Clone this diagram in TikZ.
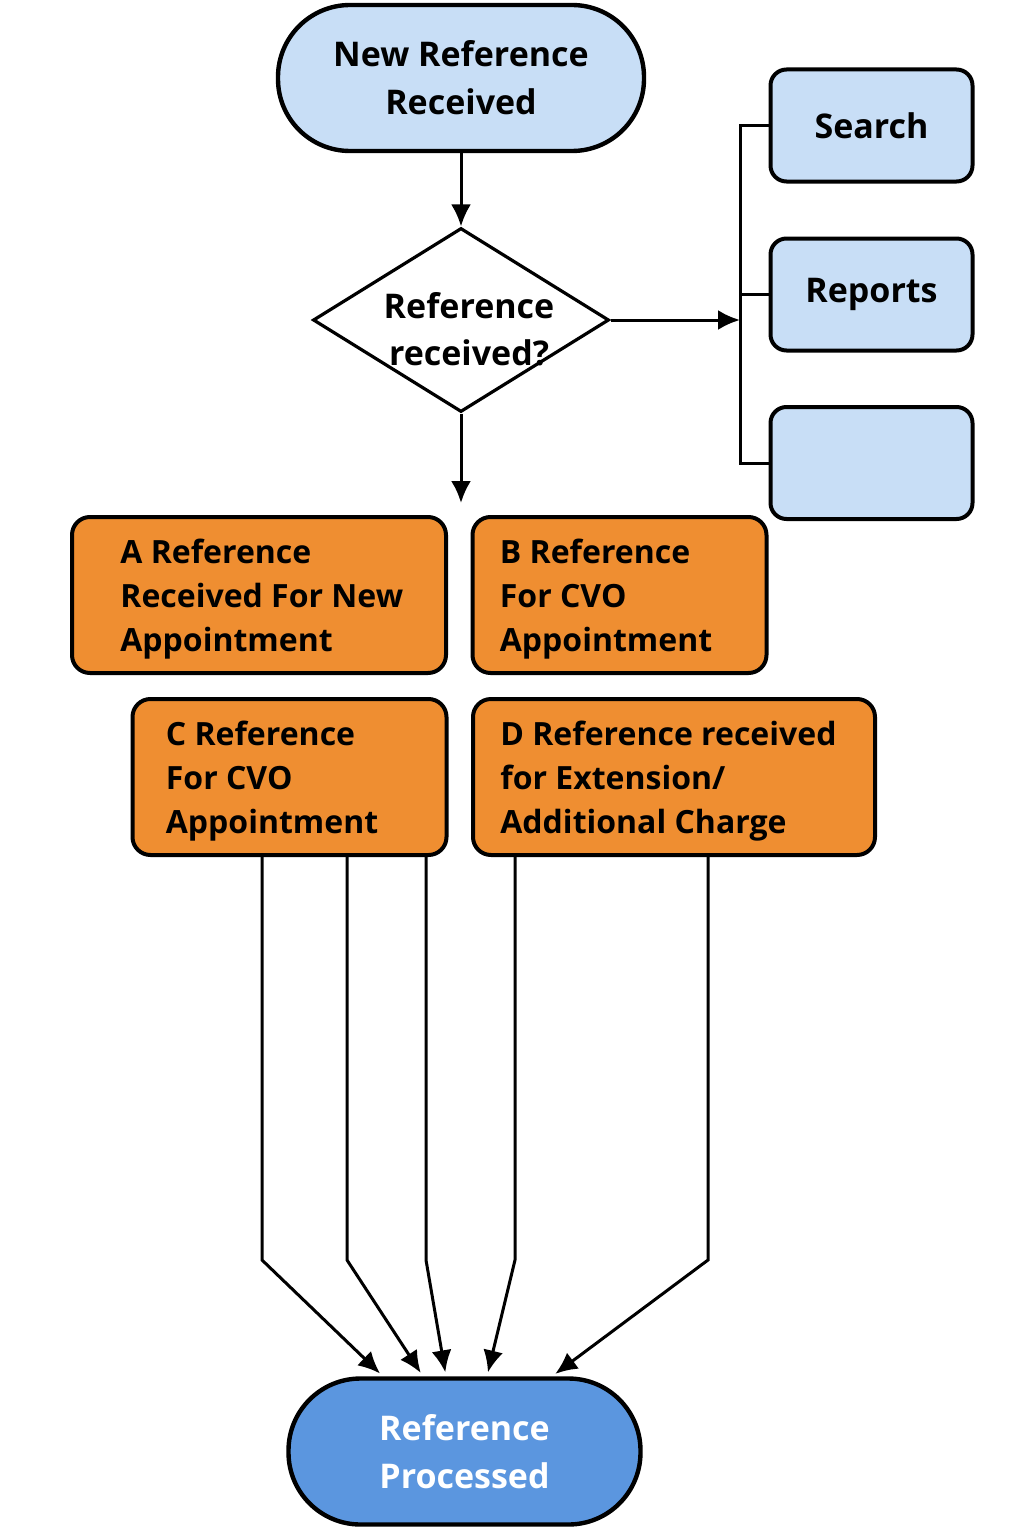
\documentclass[tikz,border=0pt]{standalone}
\usepackage{fontspec}
\setmainfont{Open Sans}
\usetikzlibrary{positioning, arrows.meta, shapes.geometric}
\definecolor{refBlue}{HTML}{C8DEF6}
\definecolor{refOrange}{HTML}{EF8E31}
\definecolor{refDeep}{HTML}{5B96DF}

\begin{document}
\begin{tikzpicture}[x=0.5pt, y=-0.5pt,
  term/.style={rectangle, rounded corners=36pt, draw=black, line width=2.2pt,
               minimum width=183pt, minimum height=73pt, align=center,
               font=\fontsize{17}{24}\selectfont\bfseries},
  decision/.style={diamond, draw=black, line width=1.6pt, fill=white,
               minimum width=148pt, minimum height=92pt, inner sep=0pt},
  side/.style={rectangle, rounded corners=8pt, draw=black, line width=2pt, fill=refBlue,
               minimum width=101pt, minimum height=56pt,
               font=\fontsize{17}{24}\selectfont\bfseries},
  refbox/.style={rectangle, rounded corners=9pt, draw=black, line width=2pt,
               fill=refOrange, minimum height=78pt},
  reftext/.style={anchor=west, align=left, inner sep=0pt, yshift=-2pt,
               font=\fontsize{16}{22}\selectfont\bfseries},
  arrow/.style={-{Latex[length=11pt, width=10pt]}, line width=1.5pt},
  link/.style={line width=1.5pt}
]
\useasboundingbox (0,0) rectangle (1024,1536);

% top of the flow
\node[term, fill=refBlue] (start) at (461,78) {New Reference\\Received};
\node[decision, label={[align=center, xshift=4pt, yshift=-4.5pt,
      font=\fontsize{17}{23.5}\selectfont\bfseries]center:{Reference\\received?}}]
  (dec) at (461,320) {};
\coordinate (bus) at (740,320);
\coordinate (split) at (461,503);

% side options
\node[side] (search) at (871.5,125.5) {Search};
\node[side] (reports) at (871.5,294.5) {Reports};
\node[side] (blank) at (871.5,463) {};

% reference types
\node[refbox, minimum width=187pt,
      label={[reftext, xshift=25pt]west:{A Reference\\Received For New\\Appointment}}]
  (refa) at (259,595) {};
\node[refbox, minimum width=147pt,
      label={[reftext, xshift=14.5pt]west:{B Reference\\For CVO\\Appointment}}]
  (refb) at (619.5,595) {};
\node[refbox, minimum width=157pt,
      label={[reftext, xshift=17.5pt]west:{C Reference\\For CVO\\Appointment}}]
  (refc) at (289.5,777) {};
\node[refbox, minimum width=201pt,
      label={[reftext, xshift=14.5pt]west:{D Reference received\\for Extension/\\Additional Charge}}]
  (refd) at (674,777) {};

\node[term, fill=refDeep, text=white, minimum width=176pt] (done) at (464.5,1451.5)
  {Reference\\Processed};

\draw[arrow] (start) -- (dec);
\draw[arrow] (dec.east) -- (bus);
\draw[link] (search.west) -| (bus) |- (blank.west);
\draw[link] (reports.west) -- (reports.west -| bus);
\draw[arrow] (dec.south) -- (split);

\foreach \src/\xa/\xb in {refc/262/383, refc/347/423, refc/426/446, refd/515/487, refd/708/552}
  \draw[arrow, shorten >=2pt] (\src.south -| \xa,0) -- (\xa,1260) -- (done.north -| \xb,0);
\end{tikzpicture}
\end{document}
